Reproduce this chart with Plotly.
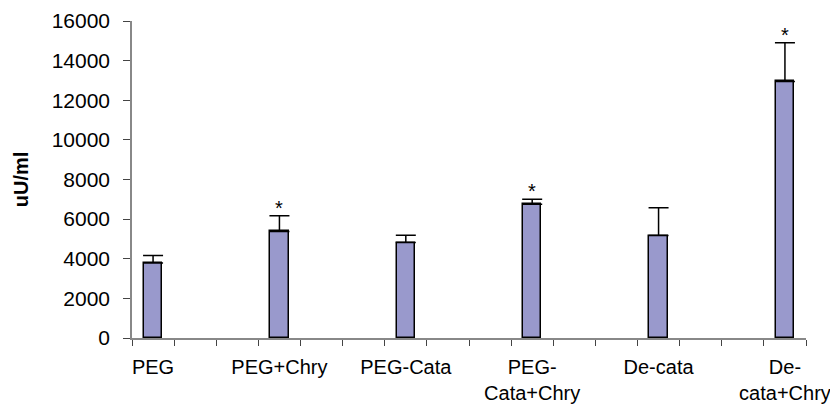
import plotly.graph_objects as go

categories = ["PEG", "PEG+Chry", "PEG-Cata", "PEG-<br>Cata+Chry", "De-cata", "De-<br>cata+Chry"]
values = [3780, 5380, 4820, 6750, 5170, 12950]
errors = [380, 790, 370, 250, 1400, 1950]
significant = [False, True, False, True, False, True]
slot_count = 16
slots = [0, 3, 6, 9, 12, 15]
y_ticks = [0, 2000, 4000, 6000, 8000, 10000, 12000, 14000, 16000]

FONT = "Liberation Sans, Arial, sans-serif"
FS = 21

fig = go.Figure()
fig.add_trace(go.Bar(
    x=slots, y=values, width=0.44,
    marker=dict(color="#9999CC", line=dict(color="#000000", width=1.5)),
    error_y=dict(type="data", array=errors, arrayminus=[0] * len(errors),
                 symmetric=False, color="#000000", thickness=1.5, width=10),
    hoverinfo="skip",
))

for s, v, e, sig in zip(slots, values, errors, significant):
    if sig:
        fig.add_annotation(x=s, y=v + e, text="*", showarrow=False,
                           yanchor="bottom", yshift=-5,
                           font=dict(family=FONT, size=20, color="#000"))

# page body has an 8px default margin, so the figure is offset to compensate
fig.update_layout(
    width=838, height=406,
    margin=dict(l=124, r=40, t=13, b=76),
    paper_bgcolor="white", plot_bgcolor="white",
    showlegend=False,
    bargap=0,
    font=dict(family=FONT, size=FS, color="#000"),
)
fig.update_xaxes(
    automargin=False,
    range=[-0.5, slot_count - 0.5],
    tickmode="array", tickvals=slots, ticktext=categories,
    ticks="", showgrid=False, zeroline=False,
    showline=True, linecolor="#888888", linewidth=1.5,
    tickfont=dict(family=FONT, size=20, color="#000"),
    ticklabeloverflow="allow",
    ticklabelstandoff=10,
    minor=dict(tickmode="linear", tick0=-0.5, dtick=1, ticks="outside",
               ticklen=6, tickcolor="#444444", tickwidth=1.2, showgrid=False),
)
fig.update_yaxes(
    automargin=False,
    range=[0, 16000],
    tickmode="array", tickvals=y_ticks, ticktext=[str(t) for t in y_ticks],
    ticks="outside", ticklen=7, tickcolor="#444444", tickwidth=1.2,
    showgrid=False, zeroline=False,
    showline=True, linecolor="#888888", linewidth=1.5,
    tickfont=dict(family=FONT, size=FS, color="#000"),
    ticklabelstandoff=9,
    title=dict(text="<b>uU/ml</b>", font=dict(family=FONT, size=20, color="#000"), standoff=18),
)

fig.write_html("out.html")
